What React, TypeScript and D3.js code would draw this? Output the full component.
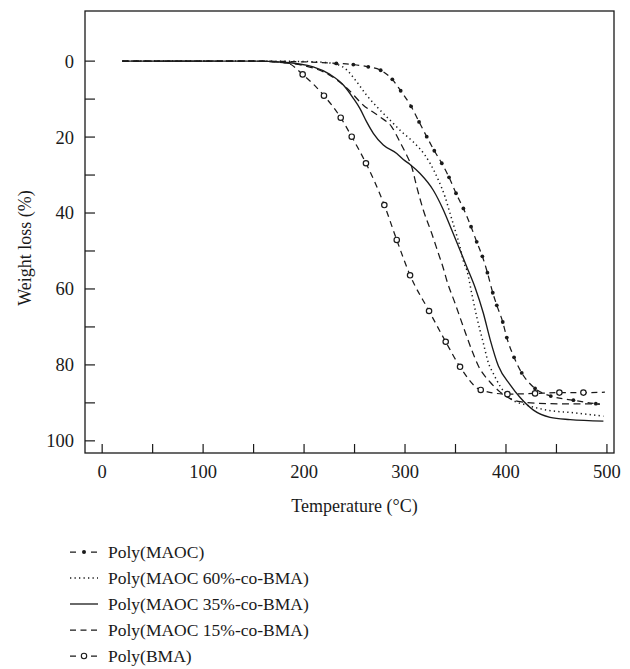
import React from "react";
import * as d3 from "d3";

// ---- data (Temperature °C, Weight loss %) ----
const maocT = [20, 150, 200, 232, 248.8, 263.6, 275.9, 287.4, 295.7, 306, 313.9, 321.5, 329, 336.4, 343.6, 350.5, 357.8, 365.4, 371, 376.6, 381.6, 386.9, 390.9, 396.8, 400.8, 408, 415.6, 428.8, 444.4, 466.8, 489, 493];
const maocW = [0, 0, 0.2, 0.6, 0.9, 1.5, 2.4, 4.8, 7.8, 11.9, 16, 19.9, 23.6, 26.9, 30.6, 34.8, 38.8, 43.6, 47.6, 51.4, 55.7, 61, 64.3, 68.7, 72.8, 78, 82.1, 86.2, 88.2, 89.3, 90.2, 90.3];
const maocMarkFrom = 3;
const maocMarkTo = 30;

const m60T = [20, 150, 200, 226, 240.5, 252, 262, 272, 285, 296.7, 308.2, 319.8, 325, 333, 339.6, 344.6, 349.6, 354.5, 358.5, 361.2, 366.1, 371, 377.6, 382.6, 387.5, 394, 404, 420.6, 440.4, 466.8, 496.5];
const m60W = [0, 0, 0.1, 0.5, 1.9, 5.4, 9, 12, 15.5, 18.6, 21.3, 24.8, 27, 31.3, 35.7, 40.1, 44.5, 48.9, 53.3, 55, 61.2, 67.3, 74.3, 79.5, 82.3, 85.5, 88.8, 90.6, 91.9, 92.6, 93.5];

const m35T = [20, 100, 150, 179.5, 209, 225.6, 238.9, 248.8, 255.4, 262, 268.6, 278.5, 291.8, 298.3, 305, 314.9, 328, 338, 346.3, 354.5, 361.2, 369.4, 377.6, 384.2, 392.5, 404, 414, 427.2, 443.7, 463.5, 496.5];
const m35W = [0, 0, 0, 0.3, 1.5, 3.5, 6.3, 9.8, 12.5, 16, 19, 22.1, 24.3, 25.9, 27.2, 29.6, 34, 39.2, 44.5, 49.8, 54.2, 59.6, 66.4, 73.2, 80.3, 85.2, 88.6, 91.9, 93.8, 94.4, 94.8];

const m15T = [20, 150, 183, 200, 222, 242, 258.7, 275.2, 286.8, 295, 301.7, 306.6, 311.6, 318.1, 326.5, 333, 338, 341.3, 349.6, 357.8, 366.1, 372.7, 384.2, 394, 414, 440.4, 493];
const m15W = [0, 0, 0.5, 1.2, 3.2, 7, 11.6, 14.7, 17.3, 21.3, 24.8, 27.8, 33.1, 39.2, 45.4, 50.6, 54.6, 57.7, 63.8, 70, 76.1, 80.3, 84.5, 87.1, 89.7, 90.2, 90.3];

const bmaT = [20, 150, 183, 198.6, 219.7, 236.3, 247.2, 261.3, 279.5, 291.8, 305, 323.8, 340.3, 354.5, 375, 401.4, 428.8, 452.9, 476.7, 498];
const bmaW = [0, 0, 0.5, 3.5, 9.1, 14.9, 19.9, 26.9, 37.9, 47.1, 56.4, 65.8, 73.9, 80.5, 86.6, 87.7, 87.5, 87.3, 87.3, 87.2];
const bmaMarkFrom = 3;
const bmaMarkTo = 18;

const xTicks = [0, 50, 100, 150, 200, 250, 300, 350, 400, 450, 500];
const xLabels = [0, 100, 200, 300, 400, 500];
const yTicks = [0, 10, 20, 30, 40, 50, 60, 70, 80, 90, 100];
const yLabels = [0, 20, 40, 60, 80, 100];

const legendNames = [
  "Poly(MAOC)",
  "Poly(MAOC 60%-co-BMA)",
  "Poly(MAOC 35%-co-BMA)",
  "Poly(MAOC 15%-co-BMA)",
  "Poly(BMA)",
];

const FONT = "'Liberation Serif', 'DejaVu Serif', serif";
const INK = "#1a1a1a";

export default function App() {
  const L = 85, R = 614, T = 11, B = 453;
  const x = d3.scaleLinear().domain([-17, 507]).range([L, R]);
  const y = d3.scaleLinear().domain([-13.2, 103.2]).range([T, B]);
  const line = d3
    .line<[number, number]>()
    .x((d) => x(d[0]))
    .y((d) => y(d[1]))
    .curve(d3.curveMonotoneX);
  const zip = (a: number[], b: number[]) => a.map((v, i) => [v, b[i]] as [number, number]);

  const maoc = zip(maocT, maocW);
  const m60 = zip(m60T, m60W);
  const m35 = zip(m35T, m35W);
  const m15 = zip(m15T, m15W);
  const bma = zip(bmaT, bmaW);

  const lw = 1.25;
  const legendY0 = 552;
  const legendDy = 26;

  return (
    <svg
      width={630}
      height={669}
      style={{ position: "absolute", left: 0, top: 0, background: "#fff" }}
      fontFamily={FONT}
    >
      <rect x={0} y={0} width={630} height={669} fill="#fff" />
      {/* curves */}
      <path d={line(m15) || ""} fill="none" stroke={INK} strokeWidth={lw} strokeDasharray="7,4.5" />
      <path d={line(m60) || ""} fill="none" stroke={INK} strokeWidth={1.5} strokeDasharray="1.3,3.2" />
      <path d={line(bma) || ""} fill="none" stroke={INK} strokeWidth={lw} strokeDasharray="6,4.5" />
      <path d={line(maoc) || ""} fill="none" stroke={INK} strokeWidth={lw} strokeDasharray="6,4.5" />
      <path d={line(m35) || ""} fill="none" stroke={INK} strokeWidth={1.35} />
      {bma.slice(bmaMarkFrom, bmaMarkTo + 1).map((d, i) => (
        <circle key={"b" + i} cx={x(d[0])} cy={y(d[1])} r={2.7} fill="#fff" stroke={INK} strokeWidth={1.2} />
      ))}
      {maoc.slice(maocMarkFrom, maocMarkTo + 1).map((d, i) => (
        <circle key={"m" + i} cx={x(d[0])} cy={y(d[1])} r={1.9} fill={INK} />
      ))}

      {/* frame */}
      <rect x={L} y={T} width={R - L} height={B - T} fill="none" stroke={INK} strokeWidth={1.3} />
      {yTicks.map((t) => (
        <line key={"yt" + t} x1={L} x2={L + 10} y1={y(t)} y2={y(t)} stroke={INK} strokeWidth={1.2} />
      ))}
      {xTicks.map((t) => (
        <line key={"xt" + t} x1={x(t)} x2={x(t)} y1={B} y2={B - 9} stroke={INK} strokeWidth={1.2} />
      ))}
      {yLabels.map((t) => (
        <text key={"yl" + t} x={L - 11} y={y(t)} dy="0.35em" textAnchor="end" fontSize={18.5} fill={INK}>
          {t}
        </text>
      ))}
      {xLabels.map((t) => (
        <text key={"xl" + t} x={x(t)} y={478} textAnchor="middle" fontSize={18.5} fill={INK}>
          {t}
        </text>
      ))}
      <text x={x(250)} y={512} textAnchor="middle" fontSize={18} fill={INK}>
        Temperature (°C)
      </text>
      <text
        transform={`translate(31,248) rotate(-90)`}
        textAnchor="middle"
        fontSize={18}
        fill={INK}
      >
        Weight loss (%)
      </text>

      {/* legend */}
      {legendNames.map((name, i) => {
        const cy = legendY0 + i * legendDy;
        let sample: React.ReactNode = null;
        if (i === 0) {
          sample = (
            <g>
              <line x1={70} x2={97} y1={cy} y2={cy} stroke={INK} strokeWidth={lw} strokeDasharray="6,15" />
              <circle cx={84} cy={cy} r={2} fill={INK} />
            </g>
          );
        } else if (i === 1) {
          sample = <line x1={70} x2={98} y1={cy} y2={cy} stroke={INK} strokeWidth={1.4} strokeDasharray="1.3,3.2" />;
        } else if (i === 2) {
          sample = <line x1={70} x2={98} y1={cy} y2={cy} stroke={INK} strokeWidth={1.3} />;
        } else if (i === 3) {
          sample = <line x1={70} x2={97} y1={cy} y2={cy} stroke={INK} strokeWidth={lw} strokeDasharray="6,4.5" />;
        } else {
          sample = (
            <g>
              <line x1={70} x2={97} y1={cy} y2={cy} stroke={INK} strokeWidth={lw} strokeDasharray="6,15" />
              <circle cx={84} cy={cy} r={2.7} fill="#fff" stroke={INK} strokeWidth={1.1} />
            </g>
          );
        }
        return (
          <g key={name}>
            {sample}
            <text x={108} y={cy} dy="0.33em" fontSize={17.5} fill={INK}>
              {name}
            </text>
          </g>
        );
      })}
    </svg>
  );
}
